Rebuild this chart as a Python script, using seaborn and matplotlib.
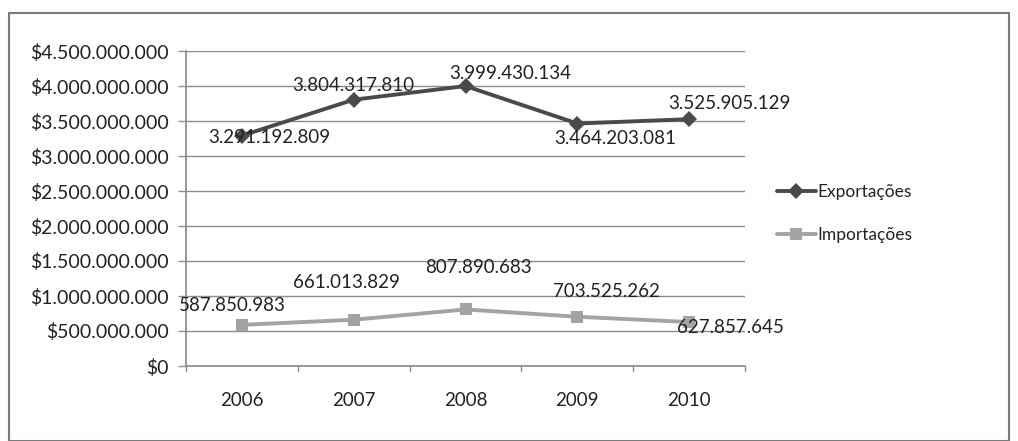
import matplotlib
matplotlib.use("Agg")
import matplotlib.pyplot as plt
import seaborn as sns
import pandas as pd
from matplotlib.ticker import FuncFormatter, MultipleLocator
from matplotlib.patches import Rectangle

years = ["2006", "2007", "2008", "2009", "2010"]
exportacoes = [3291192809, 3804317810, 3999430134, 3464203081, 3525905129]
importacoes = [587850983, 661013829, 807890683, 703525262, 627857645]
series_names = ["Exportações", "Importações"]

df = pd.DataFrame({
    "ano": years * 2,
    "valor": exportacoes + importacoes,
    "serie": [series_names[0]] * len(years) + [series_names[1]] * len(years),
})

sns.set_theme(style="white")
plt.rcParams["font.family"] = ["Lato", "DejaVu Sans"]

fig = plt.figure(figsize=(10.18, 4.41), dpi=100)
ax = fig.add_axes([186 / 1018, 1 - 366 / 441, (745 - 186) / 1018, (366 - 51) / 441])

palette = {series_names[0]: "#4a4a4a", series_names[1]: "#a3a3a3"}
markers = {series_names[0]: "D", series_names[1]: "s"}
sns.lineplot(data=df, x="ano", y="valor", hue="serie", style="serie",
             palette=palette, markers=markers, dashes=False, linewidth=2.8,
             markersize=8.5, markeredgewidth=0, ax=ax, sort=False)

def fmt_money(v, pos=None):
    return "$" + f"{int(round(v)):,}".replace(",", ".")

def fmt_num(v):
    return f"{int(v):,}".replace(",", ".")

txt = "#222222"
ax.set_ylim(0, 4.5e9)
ax.set_xlim(-0.5, len(years) - 0.5)
ax.yaxis.set_major_locator(MultipleLocator(5e8))
ax.yaxis.set_major_formatter(FuncFormatter(fmt_money))
ax.grid(axis="y", color="#8c8c8c", linewidth=1.0)
ax.set_axisbelow(True)
for s in ["top", "right"]:
    ax.spines[s].set_visible(False)
ax.spines["left"].set_color("#8c8c8c")
ax.spines["bottom"].set_color("#8c8c8c")
ax.tick_params(axis="y", labelsize=14, colors="#8c8c8c", labelcolor=txt,
               pad=7, length=5.5, width=1, direction="out", left=True)
ax.tick_params(axis="x", labelsize=13.5, labelcolor=txt, pad=19, length=0)
ax.set_xlabel("")
ax.set_ylabel("")

# tick marks between categories on the x-axis
for b in range(len(years) + 1):
    ax.plot([b - 0.5, b - 0.5], [0, -0.07e9], color="#8c8c8c", lw=1, clip_on=False)

# data labels (offsets in points from each marker)
exp_off = [(20, -1), (0, 10), (32, 9), (27, -11), (29, 11)]
imp_off = [(-7, 14), (-5, 27), (9, 30), (21, 18), (30, -4)]
for i, v in enumerate(exportacoes):
    ax.annotate(fmt_num(v), (i, v), xytext=exp_off[i], textcoords="offset points",
                ha="center", va="center", fontsize=13.5, color=txt)
for i, v in enumerate(importacoes):
    ax.annotate(fmt_num(v), (i, v), xytext=imp_off[i], textcoords="offset points",
                ha="center", va="center", fontsize=13.5, color=txt)

leg = ax.legend(loc="center left", bbox_to_anchor=(1.03, 0.484), frameon=False,
                fontsize=12.5, handlelength=2.2, handletextpad=0.1, labelspacing=1.6)
for t in leg.get_texts():
    t.set_color(txt)

# outer chart frame
fig.patches.append(Rectangle((9 / 1018, 0.0), 1000 / 1018, 1 - 13 / 441,
                             transform=fig.transFigure, fill=False,
                             edgecolor="#7a7a7a", linewidth=1.5))

fig.savefig("out.png", dpi=100)
